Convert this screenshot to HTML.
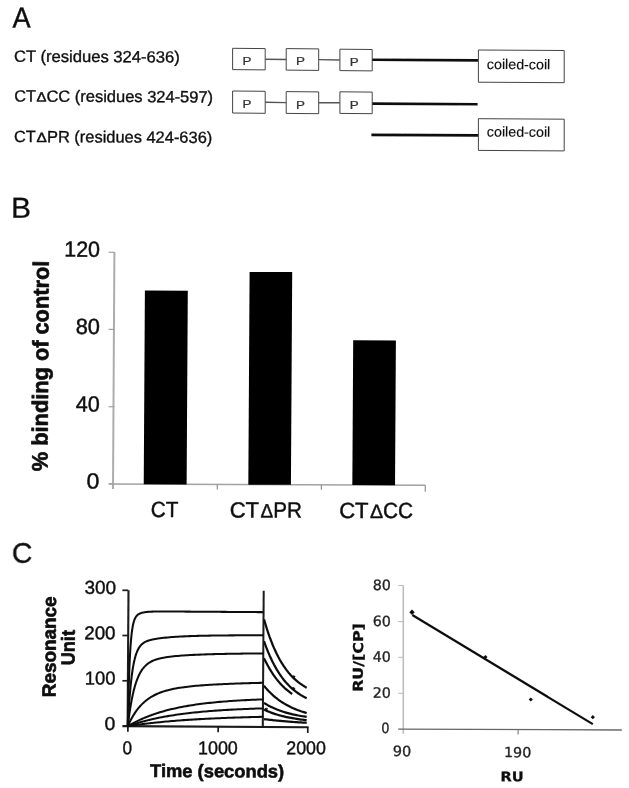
<!DOCTYPE html>
<html><head><meta charset="utf-8"><title>Figure</title>
<style>html,body{margin:0;padding:0;background:#fff}svg{display:block}</style></head>
<body>
<svg width="629" height="788" viewBox="0 0 629 788">
<defs><filter id="soft" filterUnits="userSpaceOnUse" x="0" y="0" width="629" height="788"><feGaussianBlur stdDeviation="0.35"/></filter></defs>
<rect width="629" height="788" fill="#fff"/>
<g filter="url(#soft)">
<text transform="translate(12.50,27.60) rotate(0.3) scale(0.9352,1)" font-family='"Liberation Sans", sans-serif' font-weight="normal" font-size="29" fill="#111"  stroke="#111" stroke-width="0.40" stroke-linejoin="round">A</text>
<text transform="translate(14.07,61.70) rotate(0.3) scale(1.0194,1)" font-family='"Liberation Sans", sans-serif' font-weight="normal" font-size="16.3" fill="#111"  stroke="#111" stroke-width="0.36" stroke-linejoin="round">CT (residues 324-636)</text>
<text transform="translate(14.19,101.50) rotate(0.3) scale(1.0000,1)" font-family='"Liberation Sans", sans-serif' font-weight="normal" font-size="16.3" fill="#111"  stroke="#111" stroke-width="0.36" stroke-linejoin="round">CT</text>
<text transform="translate(36.45,101.60) rotate(0.3) scale(1.1133,1)" font-family='"Liberation Sans", sans-serif' font-weight="normal" font-size="13.4" fill="#111"  stroke="#111" stroke-width="0.45" stroke-linejoin="round">Δ</text>
<text transform="translate(46.48,101.65) rotate(0.3) scale(1.0117,1)" font-family='"Liberation Sans", sans-serif' font-weight="normal" font-size="16.3" fill="#111"  stroke="#111" stroke-width="0.36" stroke-linejoin="round">CC (residues 324-597)</text>
<text transform="translate(13.99,142.00) rotate(0.3) scale(1.0000,1)" font-family='"Liberation Sans", sans-serif' font-weight="normal" font-size="16.3" fill="#111"  stroke="#111" stroke-width="0.36" stroke-linejoin="round">CT</text>
<text transform="translate(36.54,142.10) rotate(0.3) scale(1.1500,1)" font-family='"Liberation Sans", sans-serif' font-weight="normal" font-size="13.4" fill="#111"  stroke="#111" stroke-width="0.45" stroke-linejoin="round">Δ</text>
<text transform="translate(46.99,142.15) rotate(0.3) scale(1.0081,1)" font-family='"Liberation Sans", sans-serif' font-weight="normal" font-size="16.3" fill="#111"  stroke="#111" stroke-width="0.36" stroke-linejoin="round">PR (residues 424-636)</text>
<path d="M232.60,48.30 L265.20,48.60 L265.20,69.90 L232.60,69.60 Z" stroke="#444" stroke-width="1.0" fill="none" />
<text transform="translate(242.43,64.95) scale(1.2662,1)" font-family='"Liberation Sans", sans-serif' font-weight="normal" font-size="10.58" fill="#333" stroke="#333" stroke-width="0.22" stroke-linejoin="round">P</text>
<path d="M286.20,48.60 L318.70,48.90 L318.70,70.40 L286.20,70.10 Z" stroke="#444" stroke-width="1.0" fill="none" />
<text transform="translate(296.03,65.35) scale(1.2662,1)" font-family='"Liberation Sans", sans-serif' font-weight="normal" font-size="10.58" fill="#333" stroke="#333" stroke-width="0.22" stroke-linejoin="round">P</text>
<path d="M339.90,49.20 L372.20,49.50 L372.20,70.90 L339.90,70.60 Z" stroke="#444" stroke-width="1.0" fill="none" />
<text transform="translate(349.73,65.90) scale(1.2662,1)" font-family='"Liberation Sans", sans-serif' font-weight="normal" font-size="10.58" fill="#333" stroke="#333" stroke-width="0.22" stroke-linejoin="round">P</text>
<line x1="265.20" y1="59.25" x2="286.20" y2="59.45" stroke="#555" stroke-width="1.4" />
<line x1="318.70" y1="59.65" x2="339.90" y2="60.00" stroke="#555" stroke-width="1.4" />
<line x1="372.30" y1="59.80" x2="478.20" y2="60.40" stroke="#111" stroke-width="2.6" />
<path d="M232.60,91.00 L265.20,91.30 L265.20,113.30 L232.60,113.00 Z" stroke="#444" stroke-width="1.0" fill="none" />
<text transform="translate(242.43,108.00) scale(1.2662,1)" font-family='"Liberation Sans", sans-serif' font-weight="normal" font-size="10.58" fill="#333" stroke="#333" stroke-width="0.22" stroke-linejoin="round">P</text>
<path d="M286.20,91.60 L318.70,91.90 L318.70,113.70 L286.20,113.40 Z" stroke="#444" stroke-width="1.0" fill="none" />
<text transform="translate(296.03,108.50) scale(1.2662,1)" font-family='"Liberation Sans", sans-serif' font-weight="normal" font-size="10.58" fill="#333" stroke="#333" stroke-width="0.22" stroke-linejoin="round">P</text>
<path d="M339.90,91.80 L372.20,92.10 L372.20,113.70 L339.90,113.40 Z" stroke="#444" stroke-width="1.0" fill="none" />
<text transform="translate(349.73,108.60) scale(1.2662,1)" font-family='"Liberation Sans", sans-serif' font-weight="normal" font-size="10.58" fill="#333" stroke="#333" stroke-width="0.22" stroke-linejoin="round">P</text>
<line x1="265.20" y1="102.30" x2="286.20" y2="102.60" stroke="#555" stroke-width="1.4" />
<line x1="318.70" y1="102.80" x2="339.90" y2="102.70" stroke="#555" stroke-width="1.4" />
<line x1="372.30" y1="103.60" x2="477.60" y2="104.20" stroke="#111" stroke-width="2.6" />
<line x1="371.40" y1="134.90" x2="478.20" y2="135.40" stroke="#111" stroke-width="2.6" />
<path d="M478.40,50.00 L564.20,50.50 L564.20,82.70 L478.40,82.20 Z" stroke="#444" stroke-width="1.0" fill="none" />
<path d="M478.40,118.70 L564.20,119.20 L564.20,150.90 L478.40,150.40 Z" stroke="#444" stroke-width="1.0" fill="none" />
<text transform="translate(486.83,69.00) rotate(0.3) scale(1.0204,1)" font-family='"Liberation Sans", sans-serif' font-weight="normal" font-size="14" fill="#111"  stroke="#111" stroke-width="0.15" stroke-linejoin="round">coiled-coil</text>
<text transform="translate(486.83,136.50) rotate(0.3) scale(1.0204,1)" font-family='"Liberation Sans", sans-serif' font-weight="normal" font-size="14" fill="#111"  stroke="#111" stroke-width="0.15" stroke-linejoin="round">coiled-coil</text>
<text transform="translate(11.10,217.80) rotate(0.3) scale(1.0345,1)" font-family='"Liberation Sans", sans-serif' font-weight="normal" font-size="29" fill="#111"  stroke="#111" stroke-width="0.30" stroke-linejoin="round">B</text>
<line x1="114.40" y1="252.00" x2="113.00" y2="489.00" stroke="#adadad" stroke-width="2.0" />
<line x1="108.80" y1="484.00" x2="425.30" y2="485.20" stroke="#a2a2a2" stroke-width="1.5" />
<line x1="108.60" y1="252.30" x2="114.30" y2="252.30" stroke="#a2a2a2" stroke-width="1.2" />
<line x1="108.60" y1="329.40" x2="114.30" y2="329.40" stroke="#a2a2a2" stroke-width="1.2" />
<line x1="108.60" y1="406.70" x2="114.30" y2="406.70" stroke="#a2a2a2" stroke-width="1.2" />
<line x1="108.60" y1="483.70" x2="114.30" y2="483.70" stroke="#a2a2a2" stroke-width="1.2" />
<line x1="217.30" y1="484.40" x2="217.30" y2="489.40" stroke="#909090" stroke-width="1.2" />
<line x1="321.40" y1="484.80" x2="321.40" y2="489.80" stroke="#909090" stroke-width="1.2" />
<line x1="425.30" y1="485.20" x2="425.30" y2="491.70" stroke="#909090" stroke-width="1.2" />
<text transform="translate(64.29,256.60) rotate(0.3) scale(0.9736,1)" font-family='"Liberation Sans", sans-serif' font-weight="normal" font-size="22" fill="#111"  stroke="#111" stroke-width="0.48" stroke-linejoin="round">120</text>
<text transform="translate(75.73,334.00) rotate(0.3) scale(0.9885,1)" font-family='"Liberation Sans", sans-serif' font-weight="normal" font-size="22" fill="#111"  stroke="#111" stroke-width="0.48" stroke-linejoin="round">80</text>
<text transform="translate(75.77,411.50) rotate(0.3) scale(0.9784,1)" font-family='"Liberation Sans", sans-serif' font-weight="normal" font-size="22" fill="#111"  stroke="#111" stroke-width="0.48" stroke-linejoin="round">40</text>
<text transform="translate(86.48,488.60) rotate(0.3) scale(1.0511,1)" font-family='"Liberation Sans", sans-serif' font-weight="normal" font-size="22" fill="#111"  stroke="#111" stroke-width="0.48" stroke-linejoin="round">0</text>
<path d="M144.90,290.50 L187.80,290.70 L186.64,484.40 L143.74,484.24 Z" stroke="none" stroke-width="0" fill="#000" />
<path d="M249.60,271.90 L292.20,272.10 L290.92,484.80 L248.32,484.63 Z" stroke="none" stroke-width="0" fill="#000" />
<path d="M353.20,340.20 L395.90,340.40 L395.03,485.19 L352.33,485.03 Z" stroke="none" stroke-width="0" fill="#000" />
<text transform="translate(150.87,517.00) rotate(0.3) scale(0.9380,1)" font-family='"Liberation Sans", sans-serif' font-weight="normal" font-size="22" fill="#111"  stroke="#111" stroke-width="0.48" stroke-linejoin="round">CT</text>
<text transform="translate(229.70,517.40) rotate(0.3) scale(1.0000,1)" font-family='"Liberation Sans", sans-serif' font-weight="normal" font-size="22" fill="#111"  stroke="#111" stroke-width="0.48" stroke-linejoin="round">CT</text>
<text transform="translate(260.43,517.40) rotate(0.3) scale(0.9752,1)" font-family='"Liberation Sans", sans-serif' font-weight="normal" font-size="19.5" fill="#111"  stroke="#111" stroke-width="0.43" stroke-linejoin="round">Δ</text>
<text transform="translate(273.26,517.40) rotate(0.3) scale(0.9343,1)" font-family='"Liberation Sans", sans-serif' font-weight="normal" font-size="22" fill="#111"  stroke="#111" stroke-width="0.48" stroke-linejoin="round">PR</text>
<text transform="translate(339.20,518.00) rotate(0.3) scale(1.0000,1)" font-family='"Liberation Sans", sans-serif' font-weight="normal" font-size="22" fill="#111"  stroke="#111" stroke-width="0.48" stroke-linejoin="round">CT</text>
<text transform="translate(369.91,518.00) rotate(0.3) scale(1.0088,1)" font-family='"Liberation Sans", sans-serif' font-weight="normal" font-size="19.5" fill="#111"  stroke="#111" stroke-width="0.43" stroke-linejoin="round">Δ</text>
<text transform="translate(382.96,518.00) rotate(0.3) scale(0.9428,1)" font-family='"Liberation Sans", sans-serif' font-weight="normal" font-size="22" fill="#111"  stroke="#111" stroke-width="0.48" stroke-linejoin="round">CC</text>
<text transform="translate(47.40,471.15) rotate(-89.60) scale(0.9771,1)" font-family='"Liberation Sans", sans-serif' font-weight="bold" font-size="22.3" fill="#111" stroke="#111" stroke-width="0.70" stroke-linejoin="round">% binding of control</text>
<text transform="translate(11.78,562.90) rotate(0.3) scale(0.9534,1)" font-family='"Liberation Sans", sans-serif' font-weight="normal" font-size="29.8" fill="#111"  stroke="#111" stroke-width="0.35" stroke-linejoin="round">C</text>
<line x1="128.50" y1="590.30" x2="127.60" y2="726.80" stroke="#1a1a1a" stroke-width="2.1" />
<line x1="122.40" y1="726.10" x2="308.60" y2="727.30" stroke="#1a1a1a" stroke-width="2.1" />
<line x1="122.40" y1="590.30" x2="128.20" y2="590.30" stroke="#1a1a1a" stroke-width="1.7" />
<line x1="122.40" y1="635.50" x2="128.20" y2="635.50" stroke="#1a1a1a" stroke-width="1.7" />
<line x1="122.40" y1="680.80" x2="128.20" y2="680.80" stroke="#1a1a1a" stroke-width="1.7" />
<line x1="127.90" y1="726.20" x2="127.87" y2="731.80" stroke="#1a1a1a" stroke-width="1.7" />
<line x1="218.20" y1="726.70" x2="218.17" y2="732.30" stroke="#1a1a1a" stroke-width="1.7" />
<line x1="307.80" y1="727.30" x2="307.77" y2="732.90" stroke="#1a1a1a" stroke-width="1.7" />
<line x1="263.70" y1="590.70" x2="262.80" y2="727.20" stroke="#1a1a1a" stroke-width="2.0" />
<text transform="translate(84.54,593.80) rotate(0.3) scale(1.0178,1)" font-family='"Liberation Sans", sans-serif' font-weight="normal" font-size="18.6" fill="#111"  stroke="#111" stroke-width="0.41" stroke-linejoin="round">300</text>
<text transform="translate(84.26,639.20) rotate(0.3) scale(1.0072,1)" font-family='"Liberation Sans", sans-serif' font-weight="normal" font-size="18.6" fill="#111"  stroke="#111" stroke-width="0.41" stroke-linejoin="round">200</text>
<text transform="translate(84.83,684.50) rotate(0.3) scale(0.9886,1)" font-family='"Liberation Sans", sans-serif' font-weight="normal" font-size="18.6" fill="#111"  stroke="#111" stroke-width="0.41" stroke-linejoin="round">100</text>
<text transform="translate(104.62,730.00) rotate(0.3) scale(1.0417,1)" font-family='"Liberation Sans", sans-serif' font-weight="normal" font-size="18.6" fill="#111"  stroke="#111" stroke-width="0.41" stroke-linejoin="round">0</text>
<text transform="translate(122.52,754.20) rotate(0.3) scale(0.9185,1)" font-family='"Liberation Sans", sans-serif' font-weight="normal" font-size="18.6" fill="#111"  stroke="#111" stroke-width="0.41" stroke-linejoin="round">0</text>
<text transform="translate(198.07,754.20) rotate(0.3) scale(0.9601,1)" font-family='"Liberation Sans", sans-serif' font-weight="normal" font-size="18.6" fill="#111"  stroke="#111" stroke-width="0.41" stroke-linejoin="round">1000</text>
<text transform="translate(286.31,754.20) rotate(0.3) scale(0.9541,1)" font-family='"Liberation Sans", sans-serif' font-weight="normal" font-size="18.6" fill="#111"  stroke="#111" stroke-width="0.41" stroke-linejoin="round">2000</text>
<text transform="translate(150.12,777.00) rotate(0.3) scale(1.0018,1)" font-family='"Liberation Sans", sans-serif' font-weight="bold" font-size="18.3" fill="#111"  stroke="#111" stroke-width="0.60" stroke-linejoin="round">Time (seconds)</text>
<text transform="translate(55.50,697.22) rotate(-89.70) scale(0.9953,1)" font-family='"Liberation Sans", sans-serif' font-weight="bold" font-size="19.0" fill="#111" stroke="#111" stroke-width="0.70" stroke-linejoin="round">Resonance</text>
<text transform="translate(74.50,665.29) rotate(-89.70) scale(0.9541,1)" font-family='"Liberation Sans", sans-serif' font-weight="bold" font-size="19.0" fill="#111" stroke="#111" stroke-width="0.70" stroke-linejoin="round">Unit</text>
<path d="M127.80,726.20 L128.30,702.88 L128.80,684.56 L129.30,670.13 L129.80,658.75 L130.30,649.76 L130.80,642.63 L131.30,636.97 L131.80,632.46 L132.30,628.86 L132.80,625.96 L133.30,623.63 L133.80,621.74 L134.30,620.20 L134.80,618.94 L135.30,617.90 L135.80,617.04 L136.30,616.32 L136.80,615.72 L137.30,615.21 L137.80,614.78 L138.30,614.40 L138.80,614.08 L139.30,613.81 L139.80,613.56 L140.30,613.35 L140.80,613.16 L141.30,612.99 L141.80,612.84 L142.30,612.71 L142.80,612.59 L143.30,612.48 L143.80,612.39 L144.30,612.30 L144.80,612.22 L145.30,612.15 L145.80,612.09 L146.30,612.03 L146.80,611.97 L147.30,611.92 L147.80,611.88 L148.30,611.84 L148.80,611.80 L149.30,611.77 L149.80,611.74 L150.30,611.71 L150.80,611.69 L151.30,611.66 L151.80,611.64 L152.30,611.62 L152.80,611.61 L153.30,611.59 L153.80,611.58 L154.30,611.57 L154.80,611.56 L155.30,611.55 L155.80,611.54 L156.30,611.53 L156.80,611.52 L157.30,611.52 L157.80,611.51 L159.80,611.50 L161.80,611.49 L163.80,611.49 L165.80,611.49 L167.80,611.50 L169.80,611.51 L171.80,611.52 L173.80,611.53 L175.80,611.54 L177.80,611.55 L179.80,611.57 L181.80,611.58 L183.80,611.59 L185.80,611.61 L187.80,611.62 L189.80,611.63 L191.80,611.65 L193.80,611.66 L195.80,611.68 L197.80,611.69 L199.80,611.70 L201.80,611.72 L203.80,611.73 L205.80,611.75 L207.80,611.76 L209.80,611.77 L211.80,611.79 L213.80,611.80 L215.80,611.82 L217.80,611.83 L219.80,611.84 L221.80,611.86 L223.80,611.87 L225.80,611.89 L227.80,611.90 L229.80,611.91 L231.80,611.93 L233.80,611.94 L235.80,611.96 L237.80,611.97 L239.80,611.98 L241.80,612.00 L243.80,612.01 L245.80,612.03 L247.80,612.04 L249.80,612.05 L251.80,612.07 L253.80,612.08 L255.80,612.10 L257.80,612.11 L259.80,612.12 L261.80,612.14 L263.30,612.15" stroke="#111" stroke-width="2.05" fill="none" stroke-linejoin="round"/>
<path d="M127.80,726.20 L128.30,717.00 L128.80,708.82 L129.30,701.53 L129.80,695.05 L130.30,689.27 L130.80,684.12 L131.30,679.53 L131.80,675.44 L132.30,671.79 L132.80,668.53 L133.30,665.62 L133.80,663.02 L134.30,660.70 L134.80,658.62 L135.30,656.76 L135.80,655.10 L136.30,653.60 L136.80,652.26 L137.30,651.05 L137.80,649.97 L138.30,648.99 L138.80,648.11 L139.30,647.32 L139.80,646.60 L140.30,645.95 L140.80,645.36 L141.30,644.82 L141.80,644.34 L142.30,643.89 L142.80,643.49 L143.30,643.11 L143.80,642.77 L144.30,642.46 L144.80,642.17 L145.30,641.90 L145.80,641.66 L146.30,641.43 L146.80,641.21 L147.30,641.01 L147.80,640.83 L148.30,640.65 L148.80,640.49 L149.30,640.33 L149.80,640.19 L150.30,640.05 L150.80,639.92 L151.30,639.79 L151.80,639.68 L152.30,639.56 L152.80,639.45 L153.30,639.35 L153.80,639.25 L154.30,639.16 L154.80,639.06 L155.30,638.98 L155.80,638.89 L156.30,638.81 L156.80,638.73 L157.30,638.65 L157.80,638.58 L159.80,638.30 L161.80,638.05 L163.80,637.82 L165.80,637.62 L167.80,637.43 L169.80,637.25 L171.80,637.09 L173.80,636.95 L175.80,636.81 L177.80,636.69 L179.80,636.57 L181.80,636.47 L183.80,636.37 L185.80,636.28 L187.80,636.20 L189.80,636.12 L191.80,636.05 L193.80,635.98 L195.80,635.92 L197.80,635.87 L199.80,635.82 L201.80,635.77 L203.80,635.73 L205.80,635.69 L207.80,635.65 L209.80,635.61 L211.80,635.58 L213.80,635.55 L215.80,635.53 L217.80,635.50 L219.80,635.48 L221.80,635.46 L223.80,635.44 L225.80,635.42 L227.80,635.40 L229.80,635.39 L231.80,635.37 L233.80,635.36 L235.80,635.35 L237.80,635.34 L239.80,635.32 L241.80,635.32 L243.80,635.31 L245.80,635.30 L247.80,635.29 L249.80,635.28 L251.80,635.28 L253.80,635.27 L255.80,635.27 L257.80,635.26 L259.80,635.26 L261.80,635.25 L263.30,635.25" stroke="#111" stroke-width="2.05" fill="none" stroke-linejoin="round"/>
<path d="M127.80,726.20 L128.30,722.05 L128.80,718.15 L129.30,714.50 L129.80,711.08 L130.30,707.87 L130.80,704.86 L131.30,702.03 L131.80,699.38 L132.30,696.90 L132.80,694.57 L133.30,692.38 L133.80,690.33 L134.30,688.40 L134.80,686.59 L135.30,684.89 L135.80,683.29 L136.30,681.79 L136.80,680.38 L137.30,679.05 L137.80,677.81 L138.30,676.64 L138.80,675.54 L139.30,674.50 L139.80,673.52 L140.30,672.61 L140.80,671.74 L141.30,670.93 L141.80,670.16 L142.30,669.44 L142.80,668.76 L143.30,668.11 L143.80,667.51 L144.30,666.94 L144.80,666.39 L145.30,665.88 L145.80,665.40 L146.30,664.95 L146.80,664.51 L147.30,664.11 L147.80,663.72 L148.30,663.35 L148.80,663.01 L149.30,662.68 L149.80,662.37 L150.30,662.07 L150.80,661.79 L151.30,661.52 L151.80,661.27 L152.30,661.03 L152.80,660.80 L153.30,660.58 L153.80,660.37 L154.30,660.17 L154.80,659.98 L155.30,659.80 L155.80,659.63 L156.30,659.46 L156.80,659.30 L157.30,659.15 L157.80,659.00 L159.80,658.48 L161.80,658.03 L163.80,657.64 L165.80,657.31 L167.80,657.01 L169.80,656.74 L171.80,656.50 L173.80,656.29 L175.80,656.09 L177.80,655.92 L179.80,655.75 L181.80,655.60 L183.80,655.46 L185.80,655.32 L187.80,655.20 L189.80,655.09 L191.80,654.98 L193.80,654.88 L195.80,654.78 L197.80,654.69 L199.80,654.61 L201.80,654.53 L203.80,654.46 L205.80,654.39 L207.80,654.32 L209.80,654.26 L211.80,654.20 L213.80,654.14 L215.80,654.09 L217.80,654.04 L219.80,653.99 L221.80,653.95 L223.80,653.91 L225.80,653.87 L227.80,653.83 L229.80,653.80 L231.80,653.76 L233.80,653.73 L235.80,653.70 L237.80,653.67 L239.80,653.65 L241.80,653.62 L243.80,653.60 L245.80,653.58 L247.80,653.56 L249.80,653.54 L251.80,653.52 L253.80,653.50 L255.80,653.48 L257.80,653.47 L259.80,653.45 L261.80,653.44 L263.30,653.43" stroke="#111" stroke-width="2.05" fill="none" stroke-linejoin="round"/>
<path d="M127.80,726.20 L128.30,725.08 L128.80,723.98 L129.30,722.92 L129.80,721.90 L130.30,720.90 L130.80,719.93 L131.30,718.98 L131.80,718.07 L132.30,717.18 L132.80,716.32 L133.30,715.48 L133.80,714.66 L134.30,713.87 L134.80,713.11 L135.30,712.36 L135.80,711.63 L136.30,710.93 L136.80,710.25 L137.30,709.58 L137.80,708.93 L138.30,708.31 L138.80,707.70 L139.30,707.10 L139.80,706.53 L140.30,705.97 L140.80,705.42 L141.30,704.89 L141.80,704.38 L142.30,703.88 L142.80,703.39 L143.30,702.92 L143.80,702.46 L144.30,702.01 L144.80,701.58 L145.30,701.16 L145.80,700.74 L146.30,700.34 L146.80,699.95 L147.30,699.58 L147.80,699.21 L148.30,698.85 L148.80,698.50 L149.30,698.16 L149.80,697.83 L150.30,697.51 L150.80,697.20 L151.30,696.89 L151.80,696.59 L152.30,696.30 L152.80,696.02 L153.30,695.75 L153.80,695.48 L154.30,695.22 L154.80,694.97 L155.30,694.72 L155.80,694.48 L156.30,694.25 L156.80,694.02 L157.30,693.80 L157.80,693.58 L159.80,692.77 L161.80,692.03 L163.80,691.36 L165.80,690.75 L167.80,690.20 L169.80,689.70 L171.80,689.24 L173.80,688.82 L175.80,688.43 L177.80,688.08 L179.80,687.75 L181.80,687.45 L183.80,687.17 L185.80,686.91 L187.80,686.67 L189.80,686.44 L191.80,686.23 L193.80,686.03 L195.80,685.85 L197.80,685.67 L199.80,685.51 L201.80,685.36 L203.80,685.21 L205.80,685.07 L207.80,684.94 L209.80,684.81 L211.80,684.69 L213.80,684.58 L215.80,684.47 L217.80,684.36 L219.80,684.26 L221.80,684.17 L223.80,684.08 L225.80,683.99 L227.80,683.90 L229.80,683.82 L231.80,683.74 L233.80,683.66 L235.80,683.59 L237.80,683.52 L239.80,683.45 L241.80,683.39 L243.80,683.32 L245.80,683.26 L247.80,683.20 L249.80,683.14 L251.80,683.09 L253.80,683.03 L255.80,682.98 L257.80,682.93 L259.80,682.88 L261.80,682.83 L263.30,682.79" stroke="#111" stroke-width="2.05" fill="none" stroke-linejoin="round"/>
<path d="M127.80,726.20 L128.30,725.90 L128.80,725.61 L129.30,725.32 L129.80,725.04 L130.30,724.75 L130.80,724.47 L131.30,724.20 L131.80,723.92 L132.30,723.65 L132.80,723.38 L133.30,723.11 L133.80,722.85 L134.30,722.59 L134.80,722.33 L135.30,722.08 L135.80,721.82 L136.30,721.57 L136.80,721.33 L137.30,721.08 L137.80,720.84 L138.30,720.60 L138.80,720.36 L139.30,720.13 L139.80,719.90 L140.30,719.67 L140.80,719.44 L141.30,719.21 L141.80,718.99 L142.30,718.77 L142.80,718.55 L143.30,718.33 L143.80,718.12 L144.30,717.91 L144.80,717.70 L145.30,717.49 L145.80,717.29 L146.30,717.08 L146.80,716.88 L147.30,716.69 L147.80,716.49 L148.30,716.29 L148.80,716.10 L149.30,715.91 L149.80,715.72 L150.30,715.53 L150.80,715.35 L151.30,715.17 L151.80,714.99 L152.30,714.81 L152.80,714.63 L153.30,714.45 L153.80,714.28 L154.30,714.11 L154.80,713.94 L155.30,713.77 L155.80,713.60 L156.30,713.44 L156.80,713.28 L157.30,713.11 L157.80,712.95 L159.80,712.33 L161.80,711.74 L163.80,711.16 L165.80,710.61 L167.80,710.09 L169.80,709.58 L171.80,709.10 L173.80,708.63 L175.80,708.18 L177.80,707.76 L179.80,707.35 L181.80,706.95 L183.80,706.57 L185.80,706.21 L187.80,705.87 L189.80,705.53 L191.80,705.21 L193.80,704.91 L195.80,704.61 L197.80,704.33 L199.80,704.06 L201.80,703.80 L203.80,703.55 L205.80,703.31 L207.80,703.08 L209.80,702.86 L211.80,702.65 L213.80,702.45 L215.80,702.26 L217.80,702.07 L219.80,701.89 L221.80,701.72 L223.80,701.56 L225.80,701.40 L227.80,701.25 L229.80,701.10 L231.80,700.96 L233.80,700.83 L235.80,700.70 L237.80,700.58 L239.80,700.46 L241.80,700.35 L243.80,700.24 L245.80,700.14 L247.80,700.04 L249.80,699.94 L251.80,699.85 L253.80,699.76 L255.80,699.68 L257.80,699.60 L259.80,699.52 L261.80,699.45 L263.30,699.39" stroke="#111" stroke-width="2.05" fill="none" stroke-linejoin="round"/>
<path d="M127.80,726.20 L128.30,726.02 L128.80,725.85 L129.30,725.68 L129.80,725.50 L130.30,725.33 L130.80,725.16 L131.30,725.00 L131.80,724.83 L132.30,724.67 L132.80,724.51 L133.30,724.34 L133.80,724.18 L134.30,724.03 L134.80,723.87 L135.30,723.71 L135.80,723.56 L136.30,723.41 L136.80,723.26 L137.30,723.11 L137.80,722.96 L138.30,722.81 L138.80,722.67 L139.30,722.52 L139.80,722.38 L140.30,722.24 L140.80,722.10 L141.30,721.96 L141.80,721.82 L142.30,721.68 L142.80,721.55 L143.30,721.41 L143.80,721.28 L144.30,721.15 L144.80,721.02 L145.30,720.89 L145.80,720.76 L146.30,720.63 L146.80,720.50 L147.30,720.38 L147.80,720.26 L148.30,720.13 L148.80,720.01 L149.30,719.89 L149.80,719.77 L150.30,719.65 L150.80,719.54 L151.30,719.42 L151.80,719.30 L152.30,719.19 L152.80,719.08 L153.30,718.97 L153.80,718.85 L154.30,718.74 L154.80,718.64 L155.30,718.53 L155.80,718.42 L156.30,718.31 L156.80,718.21 L157.30,718.10 L157.80,718.00 L159.80,717.60 L161.80,717.21 L163.80,716.83 L165.80,716.47 L167.80,716.12 L169.80,715.79 L171.80,715.46 L173.80,715.15 L175.80,714.85 L177.80,714.56 L179.80,714.28 L181.80,714.01 L183.80,713.74 L185.80,713.49 L187.80,713.25 L189.80,713.02 L191.80,712.79 L193.80,712.57 L195.80,712.36 L197.80,712.16 L199.80,711.97 L201.80,711.78 L203.80,711.60 L205.80,711.42 L207.80,711.25 L209.80,711.09 L211.80,710.93 L213.80,710.78 L215.80,710.64 L217.80,710.50 L219.80,710.36 L221.80,710.23 L223.80,710.10 L225.80,709.98 L227.80,709.87 L229.80,709.75 L231.80,709.64 L233.80,709.54 L235.80,709.44 L237.80,709.34 L239.80,709.24 L241.80,709.15 L243.80,709.07 L245.80,708.98 L247.80,708.90 L249.80,708.82 L251.80,708.75 L253.80,708.67 L255.80,708.60 L257.80,708.53 L259.80,708.47 L261.80,708.41 L263.30,708.36" stroke="#111" stroke-width="2.05" fill="none" stroke-linejoin="round"/>
<path d="M127.80,726.20 L128.30,726.12 L128.80,726.04 L129.30,725.97 L129.80,725.89 L130.30,725.81 L130.80,725.74 L131.30,725.66 L131.80,725.59 L132.30,725.52 L132.80,725.44 L133.30,725.37 L133.80,725.30 L134.30,725.22 L134.80,725.15 L135.30,725.08 L135.80,725.01 L136.30,724.94 L136.80,724.87 L137.30,724.80 L137.80,724.74 L138.30,724.67 L138.80,724.60 L139.30,724.53 L139.80,724.47 L140.30,724.40 L140.80,724.34 L141.30,724.27 L141.80,724.21 L142.30,724.14 L142.80,724.08 L143.30,724.02 L143.80,723.95 L144.30,723.89 L144.80,723.83 L145.30,723.77 L145.80,723.71 L146.30,723.65 L146.80,723.59 L147.30,723.53 L147.80,723.47 L148.30,723.41 L148.80,723.35 L149.30,723.29 L149.80,723.23 L150.30,723.18 L150.80,723.12 L151.30,723.06 L151.80,723.01 L152.30,722.95 L152.80,722.90 L153.30,722.84 L153.80,722.79 L154.30,722.73 L154.80,722.68 L155.30,722.63 L155.80,722.57 L156.30,722.52 L156.80,722.47 L157.30,722.42 L157.80,722.37 L159.80,722.16 L161.80,721.97 L163.80,721.78 L165.80,721.59 L167.80,721.41 L169.80,721.24 L171.80,721.07 L173.80,720.90 L175.80,720.74 L177.80,720.58 L179.80,720.43 L181.80,720.29 L183.80,720.14 L185.80,720.00 L187.80,719.87 L189.80,719.74 L191.80,719.61 L193.80,719.48 L195.80,719.36 L197.80,719.25 L199.80,719.13 L201.80,719.02 L203.80,718.91 L205.80,718.81 L207.80,718.71 L209.80,718.61 L211.80,718.51 L213.80,718.42 L215.80,718.33 L217.80,718.24 L219.80,718.16 L221.80,718.07 L223.80,717.99 L225.80,717.91 L227.80,717.84 L229.80,717.76 L231.80,717.69 L233.80,717.62 L235.80,717.55 L237.80,717.49 L239.80,717.42 L241.80,717.36 L243.80,717.30 L245.80,717.24 L247.80,717.18 L249.80,717.13 L251.80,717.07 L253.80,717.02 L255.80,716.97 L257.80,716.92 L259.80,716.87 L261.80,716.82 L263.30,716.79" stroke="#111" stroke-width="2.05" fill="none" stroke-linejoin="round"/>
<path d="M264.00,619.20 L265.42,624.11 L266.85,628.72 L268.27,633.05 L269.69,637.12 L271.12,640.94 L272.54,644.53 L273.96,647.90 L275.39,651.06 L276.81,654.04 L278.23,656.83 L279.66,659.45 L281.08,661.92 L282.50,664.23 L283.93,666.41 L285.35,668.45 L286.77,670.37 L288.20,672.17 L289.62,673.86 L291.04,675.45 L292.47,676.95 L293.89,678.35 L295.31,679.67 L296.74,680.90 L298.16,682.07 L299.58,683.16 L301.01,684.18 L302.43,685.15 L303.85,686.05 L305.28,686.90 L306.70,687.70" stroke="#111" stroke-width="2.25" fill="none" stroke-linejoin="round"/>
<path d="M264.00,641.10 L265.42,645.07 L266.85,648.82 L268.27,652.35 L269.69,655.67 L271.12,658.80 L272.54,661.75 L273.96,664.52 L275.39,667.14 L276.81,669.60 L278.23,671.92 L279.66,674.11 L281.08,676.17 L282.50,678.11 L283.93,679.94 L285.35,681.66 L286.77,683.28 L288.20,684.81 L289.62,686.24 L291.04,687.60 L292.47,688.88 L293.89,690.08 L295.31,691.21 L296.74,692.28 L298.16,693.28 L299.58,694.23 L301.01,695.12 L302.43,695.96 L303.85,696.75 L305.28,697.50 L306.70,698.20" stroke="#111" stroke-width="2.25" fill="none" stroke-linejoin="round"/>
<path d="M264.00,658.20 L264.94,660.15 L265.88,662.03 L266.82,663.85 L267.76,665.59 L268.70,667.27 L269.64,668.89 L270.58,670.45 L271.52,671.95 L272.46,673.40 L273.40,674.79 L274.34,676.13 L275.28,677.42 L276.22,678.67 L277.16,679.86 L278.10,681.02 L279.04,682.13 L279.98,683.20 L280.92,684.23 L281.86,685.22 L282.80,686.18 L283.74,687.10 L284.68,687.99 L285.62,688.84 L286.56,689.66 L287.50,690.46 L288.44,691.22 L289.38,691.95 L290.32,692.66 L291.26,693.34 L292.20,694.00" stroke="#111" stroke-width="2.25" fill="none" stroke-linejoin="round"/>
<path d="M264.00,685.80 L265.42,687.50 L266.85,689.13 L268.27,690.67 L269.69,692.14 L271.12,693.53 L272.54,694.86 L273.96,696.12 L275.39,697.33 L276.81,698.47 L278.23,699.56 L279.66,700.59 L281.08,701.58 L282.50,702.52 L283.93,703.41 L285.35,704.26 L286.77,705.06 L288.20,705.83 L289.62,706.56 L291.04,707.26 L292.47,707.92 L293.89,708.55 L295.31,709.15 L296.74,709.72 L298.16,710.26 L299.58,710.77 L301.01,711.27 L302.43,711.73 L303.85,712.18 L305.28,712.60 L306.70,713.00" stroke="#111" stroke-width="2.25" fill="none" stroke-linejoin="round"/>
<path d="M264.00,702.90 L265.42,703.78 L266.85,704.61 L268.27,705.41 L269.69,706.16 L271.12,706.88 L272.54,707.56 L273.96,708.21 L275.39,708.83 L276.81,709.42 L278.23,709.98 L279.66,710.51 L281.08,711.02 L282.50,711.50 L283.93,711.96 L285.35,712.40 L286.77,712.82 L288.20,713.21 L289.62,713.59 L291.04,713.94 L292.47,714.29 L293.89,714.61 L295.31,714.92 L296.74,715.21 L298.16,715.49 L299.58,715.75 L301.01,716.01 L302.43,716.25 L303.85,716.48 L305.28,716.69 L306.70,716.90" stroke="#111" stroke-width="2.25" fill="none" stroke-linejoin="round"/>
<path d="M264.00,709.60 L265.42,710.26 L266.85,710.90 L268.27,711.50 L269.69,712.07 L271.12,712.61 L272.54,713.13 L273.96,713.62 L275.39,714.09 L276.81,714.54 L278.23,714.96 L279.66,715.37 L281.08,715.75 L282.50,716.11 L283.93,716.46 L285.35,716.79 L286.77,717.11 L288.20,717.41 L289.62,717.69 L291.04,717.96 L292.47,718.22 L293.89,718.47 L295.31,718.70 L296.74,718.92 L298.16,719.13 L299.58,719.33 L301.01,719.52 L302.43,719.71 L303.85,719.88 L305.28,720.04 L306.70,720.20" stroke="#111" stroke-width="2.25" fill="none" stroke-linejoin="round"/>
<path d="M264.00,719.10 L265.42,719.28 L266.85,719.46 L268.27,719.63 L269.69,719.79 L271.12,719.95 L272.54,720.11 L273.96,720.26 L275.39,720.41 L276.81,720.56 L278.23,720.70 L279.66,720.83 L281.08,720.96 L282.50,721.09 L283.93,721.22 L285.35,721.34 L286.77,721.46 L288.20,721.57 L289.62,721.68 L291.04,721.79 L292.47,721.90 L293.89,722.00 L295.31,722.10 L296.74,722.20 L298.16,722.29 L299.58,722.38 L301.01,722.47 L302.43,722.56 L303.85,722.64 L305.28,722.72 L306.70,722.80" stroke="#111" stroke-width="2.25" fill="none" stroke-linejoin="round"/>
<line x1="293.00" y1="675.47" x2="294.60" y2="679.27" stroke="#111" stroke-width="1.6" />
<line x1="292.40" y1="678.07" x2="295.20" y2="676.07" stroke="#111" stroke-width="1.1" />
<line x1="293.00" y1="687.24" x2="294.60" y2="691.04" stroke="#111" stroke-width="1.6" />
<line x1="292.40" y1="689.84" x2="295.20" y2="687.84" stroke="#111" stroke-width="1.1" />
<line x1="265.60" y1="707.90" x2="267.20" y2="711.70" stroke="#111" stroke-width="1.6" />
<line x1="265.00" y1="710.50" x2="267.80" y2="708.50" stroke="#111" stroke-width="1.1" />
<line x1="403.30" y1="585.30" x2="403.30" y2="733.80" stroke="#bdbdbd" stroke-width="1.6" />
<line x1="398.20" y1="729.10" x2="621.80" y2="730.00" stroke="#666" stroke-width="1.3" />
<line x1="398.20" y1="585.50" x2="403.20" y2="585.50" stroke="#bdbdbd" stroke-width="1.1" />
<line x1="398.20" y1="621.60" x2="403.20" y2="621.60" stroke="#bdbdbd" stroke-width="1.1" />
<line x1="398.20" y1="657.30" x2="403.20" y2="657.30" stroke="#bdbdbd" stroke-width="1.1" />
<line x1="398.20" y1="693.30" x2="403.20" y2="693.30" stroke="#bdbdbd" stroke-width="1.1" />
<line x1="518.10" y1="729.50" x2="518.10" y2="734.60" stroke="#777" stroke-width="1.1" />
<text transform="translate(372.70,590.00) rotate(0.3) scale(0.9963,1)" font-family='"DejaVu Sans", sans-serif' font-weight="normal" font-size="14.3" fill="#222"  stroke="#222" stroke-width="0.31" stroke-linejoin="round">80</text>
<text transform="translate(372.70,626.10) rotate(0.3) scale(0.9963,1)" font-family='"DejaVu Sans", sans-serif' font-weight="normal" font-size="14.3" fill="#222"  stroke="#222" stroke-width="0.31" stroke-linejoin="round">60</text>
<text transform="translate(372.79,661.80) rotate(0.3) scale(0.9912,1)" font-family='"DejaVu Sans", sans-serif' font-weight="normal" font-size="14.3" fill="#222"  stroke="#222" stroke-width="0.31" stroke-linejoin="round">40</text>
<text transform="translate(372.70,697.80) rotate(0.3) scale(0.9963,1)" font-family='"DejaVu Sans", sans-serif' font-weight="normal" font-size="14.3" fill="#222"  stroke="#222" stroke-width="0.31" stroke-linejoin="round">20</text>
<text transform="translate(381.19,733.10) rotate(0.3) scale(0.9091,1)" font-family='"DejaVu Sans", sans-serif' font-weight="normal" font-size="14.3" fill="#222"  stroke="#222" stroke-width="0.31" stroke-linejoin="round">0</text>
<text transform="translate(392.83,756.10) rotate(0.3) scale(1.0183,1)" font-family='"DejaVu Sans", sans-serif' font-weight="normal" font-size="14.3" fill="#222"  stroke="#222" stroke-width="0.31" stroke-linejoin="round">90</text>
<text transform="translate(503.92,757.10) rotate(0.3) scale(1.0313,1)" font-family='"DejaVu Sans", sans-serif' font-weight="normal" font-size="13.9" fill="#222"  stroke="#222" stroke-width="0.31" stroke-linejoin="round">190</text>
<text transform="translate(500.48,781.30) rotate(0.3) scale(1.1010,1)" font-family='"DejaVu Sans", sans-serif' font-weight="bold" font-size="13.3" fill="#111"  stroke="#111" stroke-width="0.29" stroke-linejoin="round">RU</text>
<text transform="translate(362.80,691.83) rotate(-89.70) scale(1.1658,1)" font-family='"DejaVu Sans", sans-serif' font-weight="bold" font-size="13.6" fill="#111" stroke="#111" stroke-width="0.30" stroke-linejoin="round">RU/[CP]</text>
<line x1="412.30" y1="615.00" x2="592.80" y2="724.10" stroke="#111" stroke-width="2.2" />
<path d="M409.30,612.20 L412.00,609.50 L414.70,612.20 L412.00,614.90 Z" stroke="none" stroke-width="0" fill="#111" />
<path d="M483.30,657.10 L485.40,655.00 L487.50,657.10 L485.40,659.20 Z" stroke="none" stroke-width="0" fill="#111" />
<path d="M528.70,699.50 L530.80,697.40 L532.90,699.50 L530.80,701.60 Z" stroke="none" stroke-width="0" fill="#111" />
<path d="M590.70,717.20 L592.80,715.10 L594.90,717.20 L592.80,719.30 Z" stroke="none" stroke-width="0" fill="#111" />
</g>
</svg>
</body></html>
